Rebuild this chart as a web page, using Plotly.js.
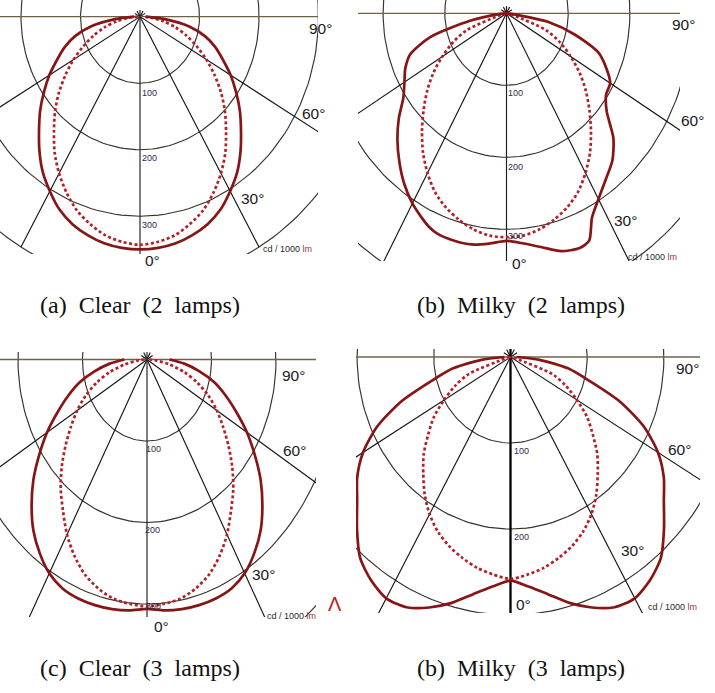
<!DOCTYPE html>
<html>
<head>
<meta charset="utf-8">
<script src="https://cdn.plot.ly/plotly-3.0.1.min.js"></script>
<style>
html,body{margin:0;padding:0;background:#fff;}
#chart{width:715px;height:693px;}
</style>
</head>
<body>
<div id="chart"></div>
<script>
// ---------------- DATA (cd / 1000 lm) ----------------
const gridRadii = [100, 200, 300, 400];
const gridAngles = [-60, -30, 30, 60];
const radiusLabels = ['100', '200', '300'];
const angleLabels = ['90°', '60°', '30°', '0°'];
const unitLabel = 'cd / 1000 lm';
const captions = ['(a) Clear (2 lamps)', '(b) Milky (2 lamps)', '(c) Clear (3 lamps)', '(b) Milky (3 lamps)'];

// angles measured from nadir (0°) to horizontal (90°)
const angles = [0,5,10,15,20,25,30,35,40,45,50,55,60,65,70,75,80,85,90];
const anglesB = [0,5,10,15,20,23,26,30,35,40,45,50,55,60,65,70,75,80,85,90];

// (a) Clear, 2 lamps (symmetric)
const clear2Solid  = [350,349,346,340,332,320,303,285,263,240,219,197,176,154,135,113,84,42,10];
const clear2Dotted = [343,340,334,323,310,292,272,250,225,202,178,153,129,105,83,62,40,20,4];

// (b) Milky, 2 lamps (solid slightly asymmetric)
const milky2SolidRight = [315,321,330,342,347,343,316,298,281,267,245,212,197,194,178,158,115,68,8,0];
const milky2SolidLeft  = [316,321,326,327,326,322,315,305,289,270,250,228,204,191,181,166,128,60,10,0];
const milky2Dotted     = [311,310,305,297,287,274,256,236,213,190,168,145,120,96,68,15,4,1,0];

// (c) Clear, 3 lamps (symmetric)
const clear3Solid  = [306,309,311,312,312,310,303,290,274,253,230,204,179,153,130,108,82,58,35];
const clear3Dotted = [303,301,298,291,281,266,248,227,208,187,165,144,125,105,83,60,35,15,4];

// (d) Milky, 3 lamps (symmetric)
const milky3Solid  = [260,268,280,296,310,321,324,317,305,283,261,244,222,192,152,106,76,38,8];
const milky3Dotted = [258,254,249,242,234,224,211,195,177,160,140,122,100,80,58,8,3,1,0];

// ---------------- LAYOUT GEOMETRY (pixels) ----------------
const W = 715, H = 693;
const panels = [
  {box:[0,0,318,254],   o:[140,16.7],  s:[0.595,0.665], thick:false,
   solid:{l:[angles,clear2Solid], r:[angles,clear2Solid]}, dotted:[angles,clear2Dotted],
   lab:{a90:[320,28], a60:[313,114], a30:[252,198], a0:[152,260], unit:[287,249], r:[[149,93],[149,158],[149,225]]}},
  {box:[358,0,680,261], o:[506.5,13.3], s:[0.617,0.72], thick:false,
   solid:{l:[anglesB,milky2SolidLeft], r:[anglesB,milky2SolidRight]}, dotted:[angles,milky2Dotted],
   lab:{a90:[683,25], a60:[692,120], a30:[625,220], a0:[519,263], unit:[652,257], r:[[515,93],[515,167],[515,236]]}},
  {box:[0,352,316,617], o:[147,359.5], s:[0.645,0.815], thick:false,
   solid:{l:[angles,clear3Solid], r:[angles,clear3Solid]}, dotted:[angles,clear3Dotted],
   lab:{a90:[293,375], a60:[294,450], a30:[263,574], a0:[161,626], unit:[291,616], r:[[153,449],[152,530],[153,606]]}},
  {box:[356,349,700,613], o:[510.5,357], s:[0.767,0.86], thick:true,
   solid:{l:[angles,milky3Solid], r:[angles,milky3Solid]}, dotted:[angles,milky3Dotted],
   lab:{a90:[687,369], a60:[679,449], a30:[632,550], a0:[523,604], unit:[672,607], r:[[521,451],[521,537]]}}
];
const captionPos = [[38,305],[415,305],[38,668],[415,668]];

const rad = d => d*Math.PI/180;
function polarXY(angs, vals, sign){
  const x=[], y=[];
  for(let i=0;i<angs.length;i++){
    const t = rad(sign*angs[i]);
    x.push(vals[i]*Math.sin(t)); y.push(-vals[i]*Math.cos(t));
  }
  return {x,y};
}
function fullCurve(left, right){
  const L = polarXY(left[0], left[1], -1);
  const R = polarXY(right[0], right[1], 1);
  return {x: L.x.slice().reverse().concat(R.x.slice(1)), y: L.y.slice().reverse().concat(R.y.slice(1))};
}

const traces = [];
const layout = {
  width: W, height: H, margin:{l:0,r:0,t:0,b:0},
  paper_bgcolor:'#fff', plot_bgcolor:'rgba(0,0,0,0)',
  showlegend:false, annotations:[], shapes:[]
};
const px2x = p => p/W, py2y = p => 1 - p/H;

panels.forEach((p,i)=>{
  const n = i===0 ? '' : String(i+1);
  const xa = 'x'+n, ya = 'y'+n;
  const [x0,y0,x1,y1] = p.box, [ox,oy] = p.o, [sx,sy] = p.s;
  const axBase = {visible:false, showgrid:false, zeroline:false, fixedrange:true};
  layout['xaxis'+n] = Object.assign({}, axBase, {domain:[x0/W, x1/W], range:[(x0-ox)/sx, (x1-ox)/sx], anchor:ya});
  layout['yaxis'+n] = Object.assign({}, axBase, {domain:[1-y1/H, 1-y0/H], range:[-(y1-oy)/sy, (oy-y0)/sy], anchor:xa});

  // circles
  const cx=[], cy=[];
  gridRadii.forEach(r=>{
    for(let a=0;a<=360;a+=2){ cx.push(r*Math.sin(rad(a))); cy.push(-r*Math.cos(rad(a))); }
    cx.push(null); cy.push(null);
  });
  traces.push({x:cx,y:cy,xaxis:xa,yaxis:ya,mode:'lines',line:{color:'#35322b',width:1.15},hoverinfo:'skip'});
  // radial lines
  const lx=[], ly=[];
  gridAngles.forEach(a=>{
    lx.push(-10*Math.sin(rad(a)), 400*Math.sin(rad(a)), null);
    ly.push(10*Math.cos(rad(a)), -400*Math.cos(rad(a)), null);
  });
  traces.push({x:lx,y:ly,xaxis:xa,yaxis:ya,mode:'lines',line:{color:'#151515',width:1.15},hoverinfo:'skip'});
  // horizontal 90° line
  traces.push({x:[-700,700],y:[0,0],xaxis:xa,yaxis:ya,mode:'lines',line:{color:'#6e6249',width:1.3},hoverinfo:'skip'});
  // 0° line
  traces.push({x:[0,0],y:[10,-500],xaxis:xa,yaxis:ya,mode:'lines',line:{color:p.thick?'#000':'#1e1e1e',width:p.thick?2.3:1.15},hoverinfo:'skip'});

  // dotted curve
  const d = fullCurve(p.dotted, p.dotted);
  traces.push({x:d.x,y:d.y,xaxis:xa,yaxis:ya,mode:'lines',line:{color:'#b02228',width:2.7,dash:'3px,2.5px',shape:'spline',smoothing:0.8},hoverinfo:'skip'});
  // solid curve
  const s = fullCurve(p.solid.l, p.solid.r);
  traces.push({x:s.x,y:s.y,xaxis:xa,yaxis:ya,mode:'lines',line:{color:'#861515',width:2.7,shape:'spline',smoothing:0.7},hoverinfo:'skip'});

  // labels
  const L = p.lab;
  const angleFont = {family:'Liberation Sans, Arial, sans-serif', size:15.5, color:'#1a1a1a'};
  [['a90',0],['a60',1],['a30',2],['a0',3]].forEach(([k,j])=>{
    layout.annotations.push({x:px2x(L[k][0]), y:py2y(L[k][1]), xref:'paper', yref:'paper', text:angleLabels[j], showarrow:false, font:angleFont, xanchor:'center', yanchor:'middle'});
  });
  layout.annotations.push({x:px2x(L.unit[0]), y:py2y(L.unit[1]), xref:'paper', yref:'paper', text:'cd / 1000 <span style="color:#8a3a3a">lm</span>', showarrow:false, font:{family:'Liberation Sans, Arial, sans-serif', size:9, color:'#2a2a2a'}, xanchor:'center', yanchor:'middle'});
  L.r.forEach((q,j)=>{
    layout.annotations.push({x:px2x(q[0]), y:py2y(q[1]), xref:'paper', yref:'paper', text:radiusLabels[j], showarrow:false, font:{family:'Liberation Sans, Arial, sans-serif', size:9, color:'#33284a'}, xanchor:'center', yanchor:'middle'});
  });
});

// captions
captions.forEach((c,i)=>{
  layout.annotations.push({x:px2x(captionPos[i][0]), y:py2y(captionPos[i][1]), xref:'paper', yref:'paper',
    text:c.replace(/ /g,'\u00a0\u00a0'), showarrow:false, xanchor:'left', yanchor:'middle',
    font:{family:'Liberation Serif, DejaVu Serif, serif', size:24, color:'#111'}});
});
// small red glyph beside panel (c)
layout.annotations.push({x:px2x(335), y:py2y(604), xref:'paper', yref:'paper', text:'Λ', showarrow:false,
  font:{family:'Liberation Sans, Arial, sans-serif', size:20, color:'#c41a1a'}, xanchor:'center', yanchor:'middle'});

Plotly.newPlot('chart', traces, layout, {staticPlot:true, displayModeBar:false});
</script>
</body>
</html>
